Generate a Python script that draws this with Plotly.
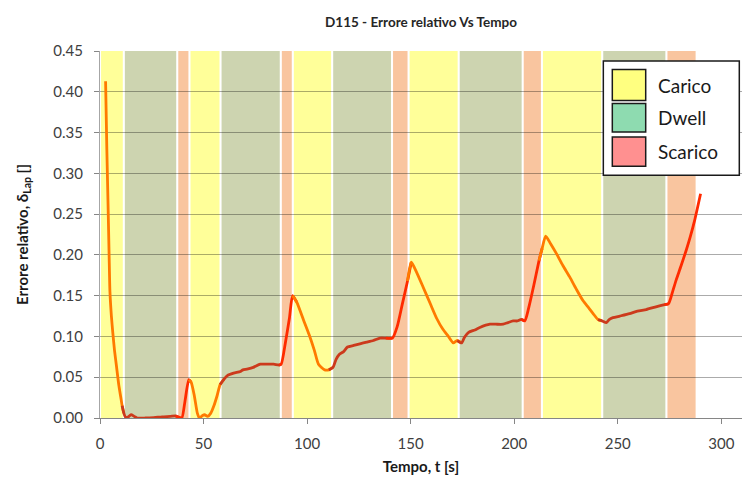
import numpy as np
import plotly.graph_objects as go

# Time history of the relative error (s, -)
tempo = [2.7, 3.3, 3.9, 4.4, 4.8, 5.5, 6.2, 7.0, 8.0, 9.1, 10.0, 10.7, 11.5, 12.3, 13.5,
         15.0, 16.5, 18.0, 22.0, 26.0, 30.0, 34.0, 36.5, 38.0, 39.5, 41.0, 42.9, 44.0,
         45.5, 47.0, 48.0, 49.5, 50.5, 52.0, 53.5, 55.0, 56.5, 58.0, 60.0, 61.5, 64.5,
         67.8, 69.0, 71.0, 74.0, 77.4, 80.6, 83.8, 86.5, 87.5, 89.5, 91.5, 93.0, 95.0,
         98.3, 101.0, 103.5, 105.5, 108.5, 110.5, 112.5, 114.0, 115.5, 117.5, 119.5,
         122.5, 125.5, 128.8, 132.0, 135.2, 138.0, 141.2, 143.5, 146.0, 148.5, 150.3,
         153.0, 156.1, 159.5, 162.6, 165.5, 168.2, 170.6, 172.5, 174.6, 176.0, 178.0,
         181.0, 183.4, 188.3, 191.0, 194.7, 197.0, 199.5, 201.5, 203.5, 205.1, 207.0,
         209.5, 212.0, 213.5, 215.2, 217.5, 220.4, 223.5, 226.8, 230.0, 233.2, 236.0,
         238.1, 240.5, 242.5, 244.5, 246.0, 247.7, 251.0, 255.7, 259.5, 263.8, 268.0,
         272.6, 274.5, 276.5, 278.2, 280.5, 283.1, 285.0, 287.1, 290.0]
errore = [0.413, 0.330, 0.260, 0.200, 0.155, 0.125, 0.104, 0.083, 0.0625, 0.040, 0.026,
          0.015, 0.006, 0.001, 0.001, 0.004, 0.002, 0.000, 0.000, 0.0005, 0.0015, 0.002,
          0.0025, 0.001, 0.000, 0.020, 0.047, 0.044, 0.028, 0.006, 0.000, 0.003, 0.004,
          0.002, 0.006, 0.015, 0.027, 0.041, 0.048, 0.052, 0.055, 0.057, 0.059, 0.060,
          0.062, 0.066, 0.066, 0.066, 0.065, 0.066, 0.092, 0.123, 0.150, 0.142, 0.120,
          0.102, 0.083, 0.066, 0.059, 0.059, 0.062, 0.072, 0.078, 0.081, 0.087, 0.089,
          0.091, 0.093, 0.095, 0.098, 0.098, 0.098, 0.112, 0.140, 0.168, 0.191, 0.178,
          0.160, 0.140, 0.122, 0.109, 0.100, 0.092, 0.095, 0.092, 0.099, 0.105, 0.108,
          0.111, 0.115, 0.115, 0.115, 0.117, 0.119, 0.119, 0.121, 0.119, 0.135, 0.163,
          0.193, 0.208, 0.223, 0.214, 0.2015, 0.187, 0.173, 0.158, 0.144, 0.135, 0.128,
          0.1206, 0.119, 0.117, 0.121, 0.123, 0.125, 0.128, 0.131, 0.133, 0.136, 0.139,
          0.140, 0.155, 0.169, 0.186, 0.206, 0.222, 0.242, 0.275]

# Test phases: start/end time and type
fase_inizio = [0.0, 11.5, 37.3, 43.2, 58.2, 87.3, 93.1, 112.1, 141.0, 149.0, 173.2,
               204.1, 213.4, 242.5, 273.5]
fase_fine = [11.5, 37.3, 43.2, 58.2, 87.3, 93.1, 112.1, 141.0, 149.0, 173.2, 204.1,
             213.4, 242.5, 273.5, 288.1]
fase_tipo = ["Carico", "Dwell", "Scarico", "Carico", "Dwell", "Scarico", "Carico",
             "Dwell", "Scarico", "Carico", "Dwell", "Scarico", "Carico", "Dwell", "Scarico"]

legenda = ["Carico", "Dwell", "Scarico"]

colore_banda = {"Carico": "#FFFF99", "Dwell": "#CDD4B0", "Scarico": "#F9C59F"}
colore_legenda = {"Carico": "#FFFF80", "Dwell": "#8EDBB0", "Scarico": "#FF9090"}
colore_linea = {"Carico": "#FF7A00", "Dwell": "#CC3A1C", "Scarico": "#FF2A00"}

FONT = "Lato"
t = np.array(tempo)
e = np.array(errore)

fig = go.Figure()

# background bands for each phase, separated by thin white gaps
gap = 0.5
shapes = []
for x0, x1, k in zip(fase_inizio, fase_fine, fase_tipo):
    shapes.append(dict(type="rect", xref="x", yref="y", x0=x0 + gap, x1=x1 - gap,
                       y0=0, y1=0.45, fillcolor=colore_banda[k], line_width=0,
                       layer="below"))

# error curve, coloured by phase
n = len(fase_tipo)
for i, (x0, x1, k) in enumerate(zip(fase_inizio, fase_fine, fase_tipo)):
    hi = x1 if i < n - 1 else t.max() + 1
    idx = np.where((t >= x0) & (t < hi))[0]
    if len(idx) == 0:
        continue
    if idx[0] > 0:
        idx = np.insert(idx, 0, idx[0] - 1)
    if idx[-1] + 1 < len(t):
        idx = np.append(idx, idx[-1] + 1)
    fig.add_trace(go.Scatter(x=t[idx], y=e[idx], mode="lines",
                             line=dict(color=colore_linea[k], width=2.8,
                                       shape="spline", smoothing=0.6),
                             showlegend=False, hoverinfo="skip", cliponaxis=True))

# legend box drawn in paper coordinates
annotations = []
shapes.append(dict(type="rect", xref="paper", yref="paper", x0=0.784, x1=0.9958,
                   y0=0.6613, y1=0.9728, fillcolor="white",
                   line=dict(color="#1a1a1a", width=1.5), layer="above"))
sw_y = [(0.8654, 0.9493), (0.7793, 0.8567), (0.6858, 0.7657)]
for (y0, y1), k in zip(sw_y, legenda):
    shapes.append(dict(type="rect", xref="paper", yref="paper", x0=0.798, x1=0.850,
                       y0=y0, y1=y1, fillcolor=colore_legenda[k],
                       line=dict(color="#1a1a1a", width=1.5), layer="above"))
    annotations.append(dict(xref="paper", yref="paper", x=0.8662, y=(y0 + y1) / 2,
                            text=k, showarrow=False, xanchor="left", yanchor="middle",
                            font=dict(family=FONT, size=19, color="#1a1a1a")))

fig.update_layout(
    width=745, height=480,
    margin=dict(l=99.5, r=3, t=51, b=62.3),
    paper_bgcolor="white", plot_bgcolor="white",
    title=dict(text="<b>D115 - Errore relativo Vs Tempo</b>", x=0.5, xref="paper",
               xanchor="center", y=1 - 22 / 480, yanchor="middle",
               font=dict(family=FONT, size=13.5, color="#262626")),
    shapes=shapes, annotations=annotations,
    font=dict(family=FONT),
)

fig.update_xaxes(
    range=[0, 310], tickmode="linear", tick0=0, dtick=50,
    ticks="outside", ticklen=5, tickcolor="#868686",
    showline=True, linecolor="#868686", linewidth=1,
    showgrid=False, zeroline=False, ticklabelstandoff=7,
    tickfont=dict(family=FONT, size=15, color="#404040"),
    title=dict(text="<b>Tempo, t [s]</b>", standoff=10,
               font=dict(family=FONT, size=15, color="#1a1a1a")),
)
fig.update_yaxes(
    range=[0, 0.45], tickmode="linear", tick0=0, dtick=0.05, tickformat=".2f",
    ticks="outside", ticklen=5, tickcolor="#868686",
    showline=True, linecolor="#A6A6A6", linewidth=1,
    showgrid=True, gridcolor="rgba(0,0,0,0.33)", gridwidth=1, zeroline=False,
    ticklabelstandoff=8,
    tickfont=dict(family=FONT, size=15, color="#404040"),
    title=dict(text="<b>Errore relativo, δ<sub>Lap</sub> []</b>", standoff=21,
               font=dict(family=FONT, size=15, color="#1a1a1a")),
)

fig.write_html("out.html")
